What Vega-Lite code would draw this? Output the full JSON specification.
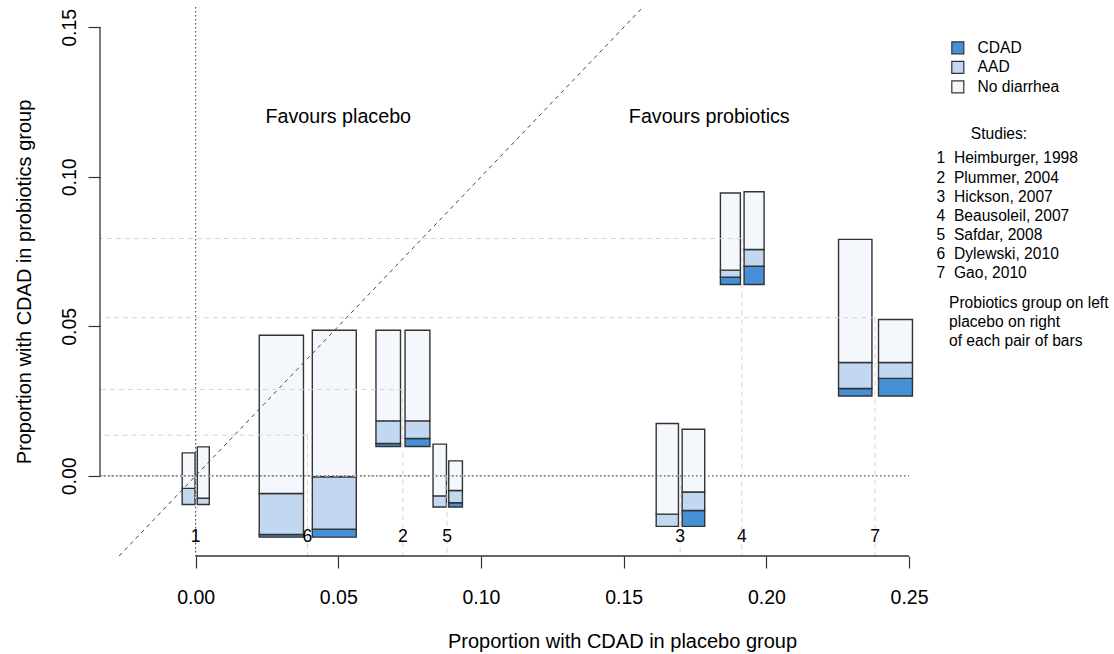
{
  "$schema": "https://vega.github.io/schema/vega-lite/v6.json",
  "width": 839,
  "height": 549,
  "autosize": {"type": "none"},
  "padding": {"left": 100, "top": 7, "right": 175, "bottom": 98},
  "background": "white",
  "config": {
    "view": {"stroke": null},
    "font": "Liberation Sans",
    "legend": {"labelFont": "Liberation Sans", "titleFont": "Liberation Sans", "labelColor": "black", "titleColor": "black"},
    "axis": {"labelFont": "Liberation Sans", "titleFont": "Liberation Sans", "labelColor": "black", "titleColor": "black"}
  },
  "title": {
    "text": ["Probiotics group on left", "placebo on right", "of each pair of bars"],
    "anchor": "start", "frame": "group", "orient": "top",
    "offset": 0, "dx": 849, "dy": 343,
    "fontSize": 15.6, "fontWeight": "normal", "lineHeight": 19,
    "font": "Liberation Sans", "color": "black"
  },
  "datasets": {
    "studies": [
      {"s": 1, "entry": "1\u00a0\u00a0Heimburger, 1998", "px": 0, "py": 0},
      {"s": 2, "entry": "2\u00a0\u00a0Plummer, 2004", "px": 0.0726, "py": 0.0289},
      {"s": 3, "entry": "3\u00a0\u00a0Hickson, 2007", "px": 0.1698, "py": 0},
      {"s": 4, "entry": "4\u00a0\u00a0Beausoleil, 2007", "px": 0.1914, "py": 0.0794},
      {"s": 5, "entry": "5\u00a0\u00a0Safdar, 2008", "px": 0.0881, "py": 0},
      {"s": 6, "entry": "6\u00a0\u00a0Dylewski, 2010", "px": 0.0392, "py": 0.0136},
      {"s": 7, "entry": "7\u00a0\u00a0Gao, 2010", "px": 0.2381, "py": 0.0529}
    ],
    "bars": [
      {"s": 1, "arm": "probiotics", "cat": "AAD", "x1": -0.0047, "x2": -0.0002, "y1": -0.0096, "y2": -0.0042},
      {"s": 1, "arm": "probiotics", "cat": "No diarrhea", "x1": -0.0047, "x2": -0.0002, "y1": -0.0042, "y2": 0.0077},
      {"s": 1, "arm": "placebo", "cat": "AAD", "x1": 0.0006, "x2": 0.0048, "y1": -0.0096, "y2": -0.0075},
      {"s": 1, "arm": "placebo", "cat": "No diarrhea", "x1": 0.0006, "x2": 0.0048, "y1": -0.0075, "y2": 0.0097},
      {"s": 6, "arm": "probiotics", "cat": "CDAD", "x1": 0.0223, "x2": 0.0378, "y1": -0.0205, "y2": -0.0196},
      {"s": 6, "arm": "probiotics", "cat": "AAD", "x1": 0.0223, "x2": 0.0378, "y1": -0.0196, "y2": -0.0059},
      {"s": 6, "arm": "probiotics", "cat": "No diarrhea", "x1": 0.0223, "x2": 0.0378, "y1": -0.0059, "y2": 0.0470},
      {"s": 6, "arm": "placebo", "cat": "CDAD", "x1": 0.0409, "x2": 0.0563, "y1": -0.0205, "y2": -0.0178},
      {"s": 6, "arm": "placebo", "cat": "AAD", "x1": 0.0409, "x2": 0.0563, "y1": -0.0178, "y2": -0.0003},
      {"s": 6, "arm": "placebo", "cat": "No diarrhea", "x1": 0.0409, "x2": 0.0563, "y1": -0.0003, "y2": 0.0487},
      {"s": 2, "arm": "probiotics", "cat": "CDAD", "x1": 0.0632, "x2": 0.0718, "y1": 0.0098, "y2": 0.0108},
      {"s": 2, "arm": "probiotics", "cat": "AAD", "x1": 0.0632, "x2": 0.0718, "y1": 0.0108, "y2": 0.0184},
      {"s": 2, "arm": "probiotics", "cat": "No diarrhea", "x1": 0.0632, "x2": 0.0718, "y1": 0.0184, "y2": 0.0487},
      {"s": 2, "arm": "placebo", "cat": "CDAD", "x1": 0.0734, "x2": 0.0821, "y1": 0.0098, "y2": 0.0125},
      {"s": 2, "arm": "placebo", "cat": "AAD", "x1": 0.0734, "x2": 0.0821, "y1": 0.0125, "y2": 0.0184},
      {"s": 2, "arm": "placebo", "cat": "No diarrhea", "x1": 0.0734, "x2": 0.0821, "y1": 0.0184, "y2": 0.0487},
      {"s": 5, "arm": "probiotics", "cat": "AAD", "x1": 0.0832, "x2": 0.0879, "y1": -0.0104, "y2": -0.0067},
      {"s": 5, "arm": "probiotics", "cat": "No diarrhea", "x1": 0.0832, "x2": 0.0879, "y1": -0.0067, "y2": 0.0106},
      {"s": 5, "arm": "placebo", "cat": "CDAD", "x1": 0.0887, "x2": 0.0935, "y1": -0.0104, "y2": -0.0090},
      {"s": 5, "arm": "placebo", "cat": "AAD", "x1": 0.0887, "x2": 0.0935, "y1": -0.0090, "y2": -0.0049},
      {"s": 5, "arm": "placebo", "cat": "No diarrhea", "x1": 0.0887, "x2": 0.0935, "y1": -0.0049, "y2": 0.0050},
      {"s": 3, "arm": "probiotics", "cat": "AAD", "x1": 0.1614, "x2": 0.1692, "y1": -0.0169, "y2": -0.0128},
      {"s": 3, "arm": "probiotics", "cat": "No diarrhea", "x1": 0.1614, "x2": 0.1692, "y1": -0.0128, "y2": 0.0175},
      {"s": 3, "arm": "placebo", "cat": "CDAD", "x1": 0.1705, "x2": 0.1784, "y1": -0.0169, "y2": -0.0116},
      {"s": 3, "arm": "placebo", "cat": "AAD", "x1": 0.1705, "x2": 0.1784, "y1": -0.0116, "y2": -0.0054},
      {"s": 3, "arm": "placebo", "cat": "No diarrhea", "x1": 0.1705, "x2": 0.1784, "y1": -0.0054, "y2": 0.0156},
      {"s": 4, "arm": "probiotics", "cat": "CDAD", "x1": 0.1839, "x2": 0.1909, "y1": 0.0640, "y2": 0.0664},
      {"s": 4, "arm": "probiotics", "cat": "AAD", "x1": 0.1839, "x2": 0.1909, "y1": 0.0664, "y2": 0.0688},
      {"s": 4, "arm": "probiotics", "cat": "No diarrhea", "x1": 0.1839, "x2": 0.1909, "y1": 0.0688, "y2": 0.0946},
      {"s": 4, "arm": "placebo", "cat": "CDAD", "x1": 0.1922, "x2": 0.1992, "y1": 0.0640, "y2": 0.0701},
      {"s": 4, "arm": "placebo", "cat": "AAD", "x1": 0.1922, "x2": 0.1992, "y1": 0.0701, "y2": 0.0757},
      {"s": 4, "arm": "placebo", "cat": "No diarrhea", "x1": 0.1922, "x2": 0.1992, "y1": 0.0757, "y2": 0.0950},
      {"s": 7, "arm": "probiotics", "cat": "CDAD", "x1": 0.2253, "x2": 0.2370, "y1": 0.0267, "y2": 0.0292},
      {"s": 7, "arm": "probiotics", "cat": "AAD", "x1": 0.2253, "x2": 0.2370, "y1": 0.0292, "y2": 0.0379},
      {"s": 7, "arm": "probiotics", "cat": "No diarrhea", "x1": 0.2253, "x2": 0.2370, "y1": 0.0379, "y2": 0.0791},
      {"s": 7, "arm": "placebo", "cat": "CDAD", "x1": 0.2393, "x2": 0.2512, "y1": 0.0267, "y2": 0.0326},
      {"s": 7, "arm": "placebo", "cat": "AAD", "x1": 0.2393, "x2": 0.2512, "y1": 0.0326, "y2": 0.0379},
      {"s": 7, "arm": "placebo", "cat": "No diarrhea", "x1": 0.2393, "x2": 0.2512, "y1": 0.0379, "y2": 0.0523}
    ],
    "notes": [
      {"label": "Favours placebo", "lx": 0.05, "ly": 0.12},
      {"label": "Favours probiotics", "lx": 0.18, "ly": 0.12}
    ]
  },
  "layer": [
    {
      "data": {"name": "bars"},
      "mark": {"type": "rect", "stroke": "#333333", "strokeWidth": 1.4},
      "encoding": {
        "x": {
          "field": "x1", "type": "quantitative",
          "scale": {"domain": [-0.0335, 0.2605], "nice": false, "zero": false},
          "axis": {
            "title": "Proportion with CDAD in placebo group",
            "values": [0, 0.05, 0.1, 0.15, 0.2, 0.25], "format": ".2f",
            "domain": false, "grid": false, "tickSize": 12, "tickColor": "#333333", "tickWidth": 1.2,
            "labelFontSize": 19.5, "labelPadding": 20, "labelBaseline": "top", "labelFlush": false, "labelOverlap": false,
            "titleFontSize": 20, "titleFontWeight": "normal", "titleX": 522, "titleY": 85, "titleBaseline": "middle", "titleAlign": "center"
          }
        },
        "x2": {"field": "x2"},
        "y": {
          "field": "y1", "type": "quantitative",
          "scale": {"domain": [-0.0268, 0.1568], "nice": false, "zero": false},
          "axis": {
            "title": "Proportion with CDAD in probiotics group",
            "values": [0, 0.05, 0.1, 0.15], "format": ".2f",
            "domain": false, "grid": false, "tickSize": 12, "tickColor": "#333333", "tickWidth": 1.2,
            "labelFontSize": 19.5, "labelAngle": -90, "labelAlign": "center", "labelBaseline": "alphabetic", "labelPadding": 13,
            "labelFlush": false, "labelOverlap": false,
            "titleFontSize": 20, "titleFontWeight": "normal", "titleAngle": -90, "titleX": -70, "titleY": 274.5,
            "titleAlign": "center", "titleBaseline": "alphabetic"
          }
        },
        "y2": {"field": "y2"},
        "fill": {
          "field": "cat", "type": "nominal",
          "scale": {"domain": ["CDAD", "AAD", "No diarrhea"], "range": ["#4690d8", "#c2d8f0", "#f4f8fd"]},
          "legend": {
            "title": null, "orient": "none", "legendX": 850, "legendY": 33, "direction": "vertical",
            "symbolType": "square", "symbolSize": 144, "symbolStrokeColor": "#333333", "symbolStrokeWidth": 1.2,
            "symbolOpacity": 1, "labelOffset": 12, "labelFontSize": 15.6, "rowPadding": 1.5, "padding": 0
          }
        }
      }
    },
    {
      "data": {"name": "studies"},
      "mark": {"type": "rule", "stroke": "#d4d4d4", "strokeDash": [5, 4], "strokeWidth": 1},
      "encoding": {
        "x": {"field": "px", "type": "quantitative"},
        "x2": {"datum": -0.0335},
        "y": {"field": "py", "type": "quantitative"}
      }
    },
    {
      "data": {"name": "studies"},
      "mark": {"type": "rule", "stroke": "#d4d4d4", "strokeDash": [5, 4], "strokeWidth": 1},
      "encoding": {
        "x": {"field": "px", "type": "quantitative"},
        "y": {"field": "py", "type": "quantitative"},
        "y2": {"datum": -0.0268}
      }
    },
    {
      "data": {"values": [{}]},
      "mark": {"type": "rule", "stroke": "#555555", "strokeDash": [1.5, 2.5], "strokeWidth": 1.2},
      "encoding": {
        "x": {"datum": 0, "type": "quantitative"}
      }
    },
    {
      "data": {"values": [{}]},
      "mark": {"type": "rule", "stroke": "#555555", "strokeDash": [1.5, 2.5], "strokeWidth": 1.2},
      "encoding": {
        "x": {"datum": -0.0335, "type": "quantitative"},
        "x2": {"datum": 0.25},
        "y": {"datum": 0, "type": "quantitative"}
      }
    },
    {
      "data": {"values": [{}]},
      "mark": {"type": "rule", "stroke": "#444444", "strokeDash": [4, 4], "strokeWidth": 1},
      "encoding": {
        "x": {"datum": -0.0268, "type": "quantitative"},
        "x2": {"datum": 0.1568},
        "y": {"datum": -0.0268, "type": "quantitative"},
        "y2": {"datum": 0.1568}
      }
    },
    {
      "data": {"values": [{}]},
      "mark": {"type": "rule", "stroke": "#333333", "strokeWidth": 1.3},
      "encoding": {
        "x": {"datum": 0, "type": "quantitative"},
        "x2": {"datum": 0.25},
        "y": {"datum": -0.0268, "type": "quantitative"}
      }
    },
    {
      "data": {"values": [{}]},
      "mark": {"type": "rule", "stroke": "#333333", "strokeWidth": 1.3},
      "encoding": {
        "x": {"datum": -0.0335, "type": "quantitative"},
        "y": {"datum": 0, "type": "quantitative"},
        "y2": {"datum": 0.15}
      }
    },
    {
      "data": {"name": "studies"},
      "mark": {"type": "text", "font": "Liberation Sans", "fontSize": 17.5, "align": "center", "baseline": "middle", "color": "black"},
      "encoding": {
        "x": {"field": "px", "type": "quantitative"},
        "y": {"datum": -0.0205, "type": "quantitative"},
        "text": {"field": "s", "type": "nominal"}
      }
    },
    {
      "data": {"name": "notes"},
      "mark": {"type": "text", "font": "Liberation Sans", "fontSize": 19.7, "align": "center", "baseline": "middle", "color": "black"},
      "encoding": {
        "x": {"field": "lx", "type": "quantitative"},
        "y": {"field": "ly", "type": "quantitative"},
        "text": {"field": "label", "type": "nominal"}
      }
    },
    {
      "data": {"name": "studies"},
      "mark": {"type": "point", "opacity": 0},
      "encoding": {
        "x": {"field": "px", "type": "quantitative"},
        "y": {"field": "py", "type": "quantitative"},
        "shape": {
          "field": "entry", "type": "nominal",
          "legend": {
            "title": "Studies:", "orient": "none", "legendX": 821, "legendY": 120, "direction": "vertical",
            "symbolOpacity": 0, "symbolSize": 1, "labelOffset": 0, "labelFontSize": 15.6, "labelLimit": 400,
            "titleFontSize": 15.6, "titleFontWeight": "normal", "titleAnchor": "middle", "titlePadding": 8,
            "rowPadding": 2.1, "padding": 0
          }
        }
      }
    }
  ]
}
